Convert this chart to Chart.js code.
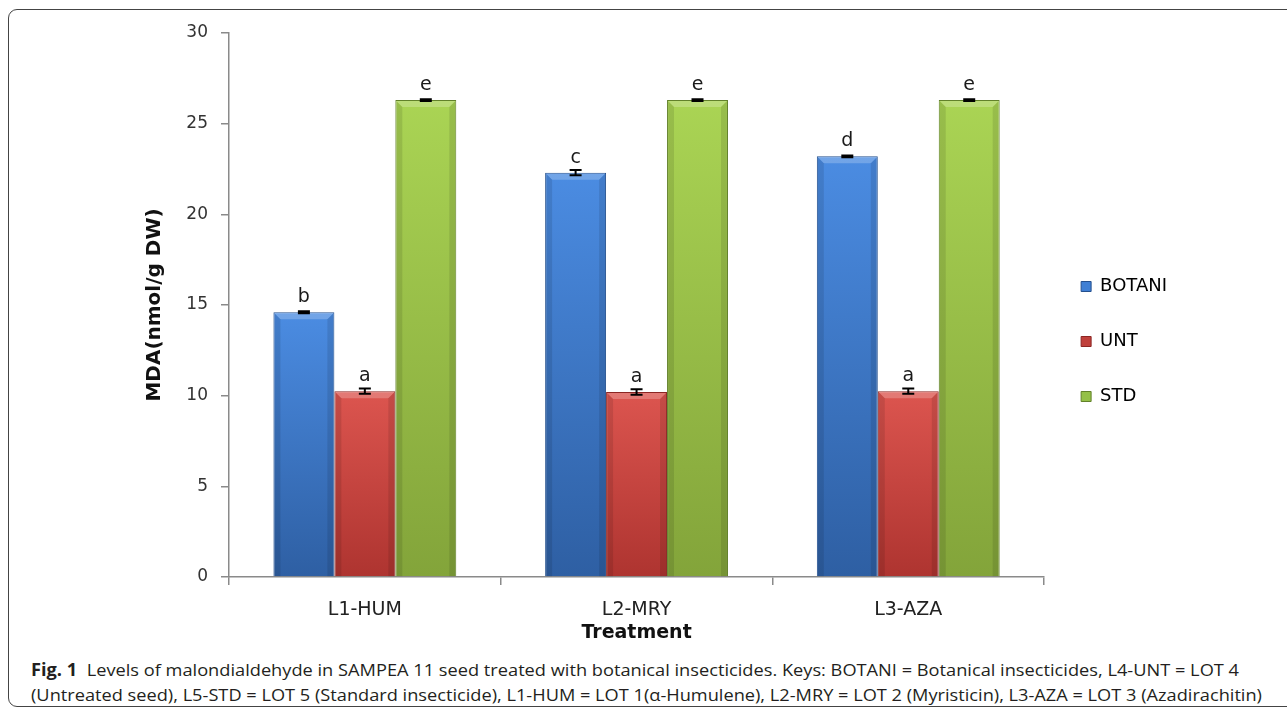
<!DOCTYPE html>
<html>
<head>
<meta charset="utf-8">
<script src="https://cdn.jsdelivr.net/npm/chart.js@4.4.1/dist/chart.umd.min.js"></script>
<style>
  html, body { margin: 0; padding: 0; background: #fff; width: 1287px; height: 713px; overflow: hidden; }
  #frame { position: absolute; left: 8px; top: 9px; width: 1400px; height: 698px; border: 1.5px solid #444; border-radius: 9px; box-sizing: border-box; }
  #wrap { position: absolute; left: 0; top: 0; width: 1287px; height: 650px; }
  .cap { position: absolute; left: 31px; white-space: nowrap; font-family: "Liberation Sans Narrow", "Open Sans", sans-serif; font-size: 17px; color: #231f20; transform-origin: 0 50%; line-height: 20px; }
  #cap1 { top: 660px; }
  #cap2 { top: 685px; }
</style>
</head>
<body>
<div id="frame"></div>
<div id="wrap"><canvas id="c" width="1287" height="650"></canvas></div>
<div class="cap" id="cap1"><b>Fig. 1</b>&nbsp; Levels of malondialdehyde in SAMPEA 11 seed treated with botanical insecticides. Keys: BOTANI = Botanical insecticides, L4-UNT = LOT 4</div>
<div class="cap" id="cap2">(Untreated seed), L5-STD = LOT 5 (Standard insecticide), L1-HUM = LOT 1(α-Humulene), L2-MRY = LOT 2 (Myristicin), L3-AZA = LOT 3 (Azadirachitin)</div>
<script>
// ---- data ----
const categories = ["L1-HUM", "L2-MRY", "L3-AZA"];
const seriesNames = ["BOTANI", "UNT", "STD"];
const botani = [14.6, 22.3, 23.2];
const unt = [10.25, 10.2, 10.25];
const std = [26.3, 26.3, 26.3];
const botaniErr = [0.05, 0.15, 0.05];
const untErr = [0.15, 0.15, 0.15];
const stdErr = [0.05, 0.05, 0.05];
const botaniLetters = ["b", "c", "d"];
const untLetters = ["a", "a", "a"];
const stdLetters = ["e", "e", "e"];
const yTicks = [0, 5, 10, 15, 20, 25, 30];

// ---- styles ----
const palette = [
  { top: "#4B8CE2", bottom: "#2E5FA3", border: "#24508E", legend: "#3F7FD4" },
  { top: "#DC554F", bottom: "#AE3430", border: "#8C2623", legend: "#C0403B" },
  { top: "#AAD454", bottom: "#83A43A", border: "#62812A", legend: "#94C047" }
];

function gradientFor(p) {
  return (ctx) => {
    const chart = ctx.chart;
    if (!chart.chartArea || ctx.raw === undefined) return p.top;
    const ys = chart.scales.y;
    const y0 = ys.getPixelForValue(ctx.raw);
    const y1 = ys.getPixelForValue(0);
    const g = chart.ctx.createLinearGradient(0, y0, 0, y1);
    g.addColorStop(0, p.top);
    g.addColorStop(1, p.bottom);
    return g;
  };
}

const values = [botani, unt, std];
const errors = [botaniErr, untErr, stdErr];
const letters = [botaniLetters, untLetters, stdLetters];

const datasets = seriesNames.map((name, i) => ({
  label: name,
  data: values[i],
  backgroundColor: gradientFor(palette[i]),
  borderColor: palette[i].border,
  borderWidth: 1,
  errors: errors[i],
  letters: letters[i],
  legendColor: palette[i].legend
}));

const bevelPlugin = {
  id: "bevel",
  afterDatasetsDraw(chart) {
    const ctx = chart.ctx;
    chart.data.datasets.forEach((ds, di) => {
      const meta = chart.getDatasetMeta(di);
      meta.data.forEach((bar) => {
        const l = bar.x - bar.width / 2, r = bar.x + bar.width / 2, t = bar.y, b = bar.base;
        const d = 7;
        ctx.save();
        ctx.fillStyle = "rgba(255,255,255,0.22)";
        ctx.beginPath();
        ctx.moveTo(l + 1, t + 1); ctx.lineTo(r - 1, t + 1); ctx.lineTo(r - d, t + d); ctx.lineTo(l + d, t + d); ctx.closePath();
        ctx.fill();
        ctx.fillStyle = "rgba(0,0,0,0.10)";
        ctx.beginPath();
        ctx.moveTo(l + 1, t + 1); ctx.lineTo(l + d, t + d); ctx.lineTo(l + d, b); ctx.lineTo(l + 1, b); ctx.closePath();
        ctx.fill();
        ctx.beginPath();
        ctx.moveTo(r - 1, t + 1); ctx.lineTo(r - d, t + d); ctx.lineTo(r - d, b); ctx.lineTo(r - 1, b); ctx.closePath();
        ctx.fill();
        ctx.restore();
      });
    });
  }
};

const errorLetterPlugin = {
  id: "errLetters",
  afterDatasetsDraw(chart) {
    const ctx = chart.ctx;
    const ys = chart.scales.y;
    chart.data.datasets.forEach((ds, di) => {
      const meta = chart.getDatasetMeta(di);
      meta.data.forEach((bar, j) => {
        const v = ds.data[j], e = ds.errors[j];
        const yHi = ys.getPixelForValue(v + e);
        const yLo = ys.getPixelForValue(v - e);
        const x = bar.x, cw = 6;
        ctx.save();
        ctx.strokeStyle = "#000";
        ctx.lineWidth = 2;
        ctx.beginPath();
        ctx.moveTo(x, yHi); ctx.lineTo(x, yLo);
        ctx.moveTo(x - cw, yHi); ctx.lineTo(x + cw, yHi);
        ctx.moveTo(x - cw, yLo); ctx.lineTo(x + cw, yLo);
        ctx.stroke();
        ctx.fillStyle = "#1a1a1a";
        ctx.font = "19px 'DejaVu Sans'";
        ctx.textAlign = "center";
        ctx.textBaseline = "alphabetic";
        ctx.fillText(ds.letters[j], x, bar.y - 10);
        ctx.restore();
      });
    });
  }
};

new Chart(document.getElementById("c"), {
  type: "bar",
  data: { labels: categories, datasets },
  options: {
    responsive: false,
    animation: false,
    layout: { padding: { left: 135, right: 110, top: 33, bottom: 0 } },
    categoryPercentage: 0.673,
    barPercentage: 1.0,
    plugins: {
      tooltip: { enabled: false },
      legend: {
        display: true,
        position: "right",
        align: "center",
        labels: {
          boxWidth: 10,
          boxHeight: 10,
          padding: 37,
          color: "#222",
          font: { family: "DejaVu Sans", size: 18 },
          generateLabels(chart) {
            return chart.data.datasets.map((ds, i) => ({
              text: ds.label,
              fillStyle: ds.legendColor,
              strokeStyle: ds.borderColor,
              lineWidth: 1,
              datasetIndex: i,
              hidden: false
            }));
          }
        }
      }
    },
    scales: {
      x: {
        afterFit(scale) { scale.height = 73; },
        grid: { display: true, drawOnChartArea: false, drawTicks: true, tickLength: 8, offset: true, color: "#8a8a8a", lineWidth: 1.5 },
        border: { color: "#8a8a8a", width: 1.5 },
        ticks: { color: "#222", padding: 14, font: { family: "DejaVu Sans", size: 19 } },
        title: { display: true, text: "Treatment", color: "#111", font: { family: "DejaVu Sans", size: 19, weight: "bold" }, padding: { top: 0, bottom: 6 } }
      },
      y: {
        min: 0,
        max: 30,
        afterFit(scale) { scale.width = 229 - 135; },
        afterBuildTicks(scale) { scale.ticks = yTicks.map(v => ({ value: v })); },
        grid: { display: true, drawOnChartArea: false, drawTicks: true, tickLength: 8, color: "#8a8a8a", lineWidth: 1.5 },
        border: { color: "#8a8a8a", width: 1.5 },
        ticks: { color: "#333", padding: 13, font: { family: "DejaVu Sans", size: 17 } },
        title: { display: true, text: "MDA(nmol/g DW)", color: "#111", font: { family: "DejaVu Sans", size: 20, weight: "bold" }, padding: { top: 8, bottom: 0 } }
      }
    }
  },
  plugins: [bevelPlugin, errorLetterPlugin]
});

function fitLine(id, target) {
  const el = document.getElementById(id);
  const w = el.getBoundingClientRect().width;
  if (w > 0) el.style.transform = "scaleX(" + (target / w) + ")";
}
fitLine("cap1", 1208);
fitLine("cap2", 1231);
</script>
</body>
</html>
